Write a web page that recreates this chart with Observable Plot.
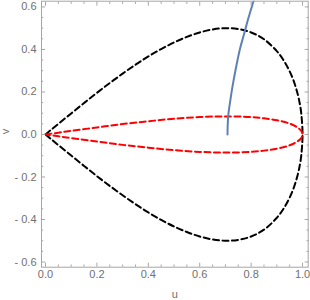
<!DOCTYPE html>
<html><head><meta charset="utf-8">
<script src="https://cdn.jsdelivr.net/npm/d3@7"></script>
<script src="https://cdn.jsdelivr.net/npm/@observablehq/plot@0.6"></script>
<style>body{margin:0;background:#fff} #chart{width:310px;height:300px}</style>
</head><body><div id="chart"></div>
<script>
// Outer (black dashed) boundary, upper half; lower half is its mirror
const outerU = [0, 0.02, 0.05, 0.1, 0.15, 0.2, 0.25, 0.3, 0.35, 0.4, 0.45, 0.5, 0.55, 0.6, 0.65, 0.7, 0.75, 0.8, 0.85, 0.9, 0.93, 0.96, 0.98, 0.99, 0.995, 1.0];
const outerV = [0, 0.02, 0.05, 0.099, 0.148, 0.196, 0.242, 0.286, 0.328, 0.367, 0.402, 0.433, 0.459, 0.48, 0.494, 0.5, 0.496, 0.48, 0.448, 0.392, 0.342, 0.269, 0.195, 0.14, 0.099, 0];
// Inner (red dashed) lens, upper half
const innerU = [0, 0.05, 0.1, 0.2, 0.3, 0.4, 0.5, 0.6, 0.7, 0.8, 0.85, 0.9, 0.95, 0.98, 0.995, 1.0];
const innerV = [0, 0.0085, 0.017, 0.033, 0.049, 0.062, 0.074, 0.082, 0.085, 0.082, 0.076, 0.067, 0.051, 0.033, 0.017, 0];
// Blue solid curve
const flowU = [0.708, 0.709, 0.712, 0.719, 0.724, 0.731, 0.742, 0.756, 0.772, 0.79, 0.81, 0.815];
const flowV = [0, 0.05, 0.1, 0.16, 0.2, 0.25, 0.32, 0.4, 0.47, 0.55, 0.63, 0.65];
// Ticks
const xMajor = [0, 0.2, 0.4, 0.6, 0.8, 1.0];
const xMinor = [0.05, 0.1, 0.15, 0.25, 0.3, 0.35, 0.45, 0.5, 0.55, 0.65, 0.7, 0.75, 0.85, 0.9, 0.95];
const yMajor = [-0.6, -0.4, -0.2, 0, 0.2, 0.4, 0.6];
const yMinor = [-0.55, -0.5, -0.45, -0.35, -0.3, -0.25, -0.15, -0.1, -0.05, 0.05, 0.1, 0.15, 0.25, 0.3, 0.35, 0.45, 0.5, 0.55];
const xTitle = "u";
const yTitle = "v";

function loop(us, vs) {
  const top = us.map((u, i) => ({u, v: vs[i]}));
  const bottom = us.slice(0, -1).reverse().map((u, i) => ({u, v: -vs[us.length - 2 - i]}));
  return top.concat(bottom);
}
const outer = loop(outerU, outerV);
const inner = loop(innerU, innerV);
const flow = flowU.map((u, i) => ({u, v: flowV[i]}));

const fmt = d => d < 0 ? "- " + Math.abs(d).toFixed(1) : d.toFixed(1);
const frameGray = "#a6a6a6";
const textGray = "#707070";
const maj = 4, mnr = 2.2;

const chart = Plot.plot({
  width: 310, height: 300,
  marginLeft: 41, marginRight: 2.3, marginTop: 0.7, marginBottom: 33.3,
  style: {fontFamily: "'Liberation Sans', Arial, sans-serif", fontSize: "11px", background: "#fff"},
  x: {domain: [-0.0156, 1.022]},
  y: {domain: [-0.6245, 0.627]},
  marks: [
    Plot.line(outer, {x: "u", y: "v", stroke: "black", strokeWidth: 2, strokeDasharray: "6,3.5", curve: "catmull-rom"}),
    Plot.line(inner, {x: "u", y: "v", stroke: "#ff0000", strokeWidth: 2, strokeDasharray: "6,3.5", curve: "catmull-rom"}),
    Plot.line(flow, {x: "u", y: "v", stroke: "#5e81b5", strokeWidth: 2, curve: "catmull-rom", clip: true}),
    Plot.frame({stroke: frameGray}),
    Plot.axisX({anchor: "bottom", ticks: xMajor, tickSize: maj, dy: -maj, text: null, stroke: frameGray, label: null}),
    Plot.axisX({anchor: "bottom", ticks: xMinor, tickSize: mnr, dy: -mnr, text: null, stroke: frameGray, label: null}),
    Plot.axisX({anchor: "top", ticks: xMajor, tickSize: maj, dy: maj, text: null, stroke: frameGray, label: null}),
    Plot.axisX({anchor: "top", ticks: xMinor, tickSize: mnr, dy: mnr, text: null, stroke: frameGray, label: null}),
    Plot.axisY({anchor: "left", ticks: yMajor, tickSize: maj, dx: maj, text: null, stroke: frameGray, label: null}),
    Plot.axisY({anchor: "left", ticks: yMinor, tickSize: mnr, dx: mnr, text: null, stroke: frameGray, label: null}),
    Plot.axisY({anchor: "right", ticks: yMajor, tickSize: maj, dx: -maj, text: null, stroke: frameGray, label: null}),
    Plot.axisY({anchor: "right", ticks: yMinor, tickSize: mnr, dx: -mnr, text: null, stroke: frameGray, label: null}),
    Plot.axisX({anchor: "bottom", ticks: xMajor, tickSize: 0, tickPadding: 3, tickFormat: fmt, fill: textGray, label: null}),
    Plot.axisY({anchor: "left", ticks: yMajor, tickSize: 0, tickPadding: 5, tickFormat: fmt, fill: textGray, label: null}),
    Plot.text([xTitle], {frameAnchor: "bottom", dy: 31, lineAnchor: "bottom", fill: textGray, fontSize: 11}),
    Plot.text([yTitle], {frameAnchor: "left", dx: -33, rotate: -90, lineAnchor: "bottom", fill: textGray, fontSize: 11})
  ]
});
document.getElementById("chart").appendChild(chart);
</script>
</body></html>
